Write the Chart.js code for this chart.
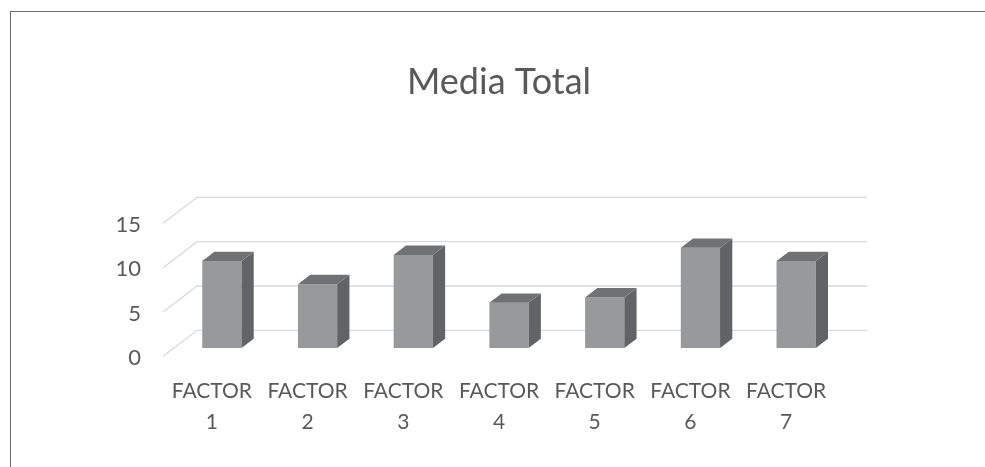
<!DOCTYPE html>
<html>
<head>
<meta charset="utf-8">
<script src="https://cdn.jsdelivr.net/npm/chart.js@4"></script>
<style>
  body { margin: 0; background: #fff; }
  #wrap { position: relative; width: 985px; height: 467px; overflow: hidden; }
  #frame { position: absolute; left: 10px; top: 11px; width: 990px; height: 470px; border: 1px solid #6a6a6a; pointer-events: none; }
</style>
</head>
<body>
<div id="wrap">
  <canvas id="myChart" width="985" height="467"></canvas>
  <div id="frame"></div>
</div>
<script>
var labels = [['FACTOR', '1'], ['FACTOR', '2'], ['FACTOR', '3'], ['FACTOR', '4'], ['FACTOR', '5'], ['FACTOR', '6'], ['FACTOR', '7']];
var mediaTotal = [9.8, 7.2, 10.5, 5.1, 5.7, 11.3, 9.8];
var yTicks = [0, 5, 10, 15];

// fake 3d depth (px), bars sit between front and back of the floor
var depth = { dx: 34, dy: 26, front: 0.32, back: 0.68 };
var frontColor = '#98999b';
var sideColor = '#626365';
var topColor = '#707173';

var fake3d = {
    id: 'fake3d',
    beforeDatasetsDraw: function(chart) {
        var ctx = chart.ctx, y = chart.scales.y, area = chart.chartArea;
        var fx = -depth.dx * depth.front, fy = depth.dy * depth.front;
        var bx = depth.dx * (1 - depth.front), by = -depth.dy * (1 - depth.front);
        ctx.save();
        ctx.strokeStyle = '#d9d9d9';
        ctx.lineWidth = 1.3;
        y.ticks.forEach(function(t) {
            var py = y.getPixelForValue(t.value);
            ctx.beginPath();
            ctx.moveTo(area.left + fx, py + fy);
            ctx.lineTo(area.left + bx, py + by);
            ctx.lineTo(area.right + bx, py + by);
            ctx.stroke();
        });
        ctx.restore();
    },
    afterDatasetsDraw: function(chart) {
        var ctx = chart.ctx;
        var ox = depth.dx * (depth.back - depth.front), oy = depth.dy * (depth.back - depth.front);
        ctx.save();
        chart.getDatasetMeta(0).data.forEach(function(bar) {
            var p = bar.getProps(['x', 'y', 'base', 'width'], true);
            var l = p.x - p.width / 2, r = p.x + p.width / 2;
            // right side
            ctx.fillStyle = sideColor;
            ctx.beginPath();
            ctx.moveTo(r, p.y);
            ctx.lineTo(r + ox, p.y - oy);
            ctx.lineTo(r + ox, p.base - oy);
            ctx.lineTo(r, p.base);
            ctx.closePath();
            ctx.fill();
            // top
            ctx.fillStyle = topColor;
            ctx.beginPath();
            ctx.moveTo(l, p.y);
            ctx.lineTo(r, p.y);
            ctx.lineTo(r + ox, p.y - oy);
            ctx.lineTo(l + ox, p.y - oy);
            ctx.closePath();
            ctx.fill();
        });
        ctx.restore();
    }
};

Chart.defaults.font.family = 'Lato';
Chart.defaults.color = '#595959';

var ctx = document.getElementById('myChart').getContext('2d');
var chart = new Chart(ctx, {
    type: 'bar',
    data: {
        labels: labels,
        datasets: [{
            label: 'Media Total',
            data: mediaTotal,
            backgroundColor: frontColor,
            borderWidth: 0,
            barPercentage: 0.41,
            categoryPercentage: 1
        }]
    },
    options: {
        responsive: false,
        animation: false,
        layout: { padding: { left: 13, top: 61, right: 0, bottom: 0 } },
        plugins: {
            legend: { display: false },
            tooltip: { enabled: false },
            title: {
                display: true,
                text: 'Media Total',
                color: '#595959',
                font: { size: 36, weight: 'normal', lineHeight: 1.2 },
                padding: { top: 0, bottom: 110.8 }
            }
        },
        scales: {
            x: {
                grid: { display: false, drawTicks: false },
                border: { display: false },
                ticks: { font: { size: 21, lineHeight: 1.476 }, padding: 28, labelOffset: -10, maxRotation: 0, autoSkip: false },
                afterFit: function(s) { s.height = 119; }
            },
            y: {
                min: 0,
                max: 15,
                grid: { display: false, drawTicks: false },
                border: { display: false },
                ticks: {
                    stepSize: 5,
                    padding: 33,
                    labelOffset: 10,
                    font: { size: 22 },
                    callback: function(v) { return yTicks.indexOf(v) >= 0 ? v : ''; }
                },
                afterFit: function(s) { s.width = 161; }
            },
            y2: {
                position: 'right',
                grid: { display: false, drawTicks: false },
                border: { display: false },
                ticks: { display: false },
                afterFit: function(s) { s.width = 141; }
            }
        }
    },
    plugins: [fake3d]
});
</script>
</body>
</html>
